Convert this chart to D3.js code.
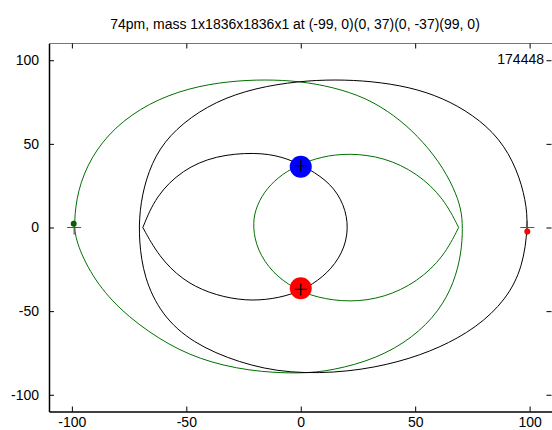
<!DOCTYPE html>
<html>
<head>
<meta charset="utf-8">
<script src="https://cdn.jsdelivr.net/npm/d3@7"></script>
<style>
  body { margin: 0; background: #fff; }
  svg { display: block; font-family: "Liberation Sans", Arial, sans-serif; }
</style>
</head>
<body>
<svg id="chart" width="552" height="430"></svg>
<script>
const titleText = "74pm, mass 1x1836x1836x1 at (-99, 0)(0, 37)(0, -37)(99, 0)";
const stepLabel = "174448";
const xTicks = [-100, -50, 0, 50, 100];
const yTicks = [-100, -50, 0, 50, 100];

// start positions of the four bodies
const startX = [-99, 0, 0, 99];
const startY = [0, 37, -37, 0];

// current positions
const protons = [
    { x: 0, y: 36.3, color: "#0000ff" },
    { x: 0, y: -36.3, color: "#ff0000" }
];
const electrons = [
    { x: -99.2, y: 2.2, color: "#006400" },
    { x: 99, y: -2.4, color: "#ff0000" }
];

// traced orbits
const greenOuter = [
    [-99.1, 2.8], [-97.6, 22], [-91.8, 42], [-81.5, 60], [-66.4, 74.5],
    [-48.9, 83.5], [-31.4, 87.5], [-15.4, 88.5], [-0.6, 87.5], [14, 84],
    [28.7, 77.5], [41, 67], [51, 55], [60.5, 39.5], [67, 23.5], [70.2, 10.7],
    [70.8, 0], [70.2, -15.5], [67, -33], [60.5, -50], [49, -66],
    [33, -78.5], [14, -85.5], [-0.4, -87.5], [-22.7, -86], [-44.5, -79],
    [-62, -67], [-79.5, -49], [-91.5, -29], [-98.4, -8]
];
const greenInner = [
    [69, 0], [62.5, 17.5], [51, 32.5], [36.5, 42], [21.4, 44.5],
    [9, 42.5], [-2, 37], [-10, 30], [-16, 21.5], [-20, 10.7], [-21, 0],
    [-19, -13.5], [-12.5, -27], [-3, -36.5], [7, -42], [21.4, -44.8],
    [36.5, -42], [51, -32.5], [62.5, -17.5], [69, 0]
];
const blackOuter = [
    [99.3, 0.8], [98.4, 16], [94.5, 35], [86.9, 53.5], [75.2, 67.5],
    [62.1, 77.5], [47.6, 84], [31, 87.5], [15, 88.5], [-0.9, 87.5], [-19.8, 83.5],
    [-37.2, 75.5], [-51.8, 62.5], [-62, 47.5], [-67.8, 29], [-70.5, 10],
    [-70.7, -8], [-68.5, -30], [-61, -52], [-47.5, -69], [-27, -81],
    [-5.2, -87.5], [21.4, -86.5], [43.2, -80.5], [60.7, -72], [76.7, -60],
    [89.8, -43.2], [97.1, -23.4]
];
const blackInner = [
    [-69, 0], [-63.4, 18.7], [-51.8, 34.5], [-37.2, 43.1], [-19.8, 45],
    [-8.2, 42.5], [1, 37], [11.2, 28.6], [17.8, 17.5], [21, 3],
    [19.5, -12], [13.5, -25], [5.4, -34], [-3.8, -40.2], [-15.4, -43.5],
    [-27, -43.5], [-40.2, -39.3], [-51.8, -31.3], [-62, -17.4], [-69, 0]
];

const plotLeft = 49, plotRight = 552.5, plotTop = 43.5, plotBottom = 411.5;

const x = d3.scaleLinear().domain([-110, 110]).range([plotLeft, plotRight]);
const y = d3.scaleLinear().domain([-110, 110]).range([plotBottom, plotTop]);

const svg = d3.select("#chart");

svg.append("text")
    .attr("x", 295)
    .attr("y", 29)
    .attr("text-anchor", "middle")
    .style("font-size", "14px")
    .attr("fill", "#000")
    .text(titleText);

const plot = svg.append("g");

const closedLine = d3.line()
    .x(d => x(d[0]))
    .y(d => y(d[1]))
    .curve(d3.curveBasisClosed);

const openLine = d3.line()
    .x(d => x(d[0]))
    .y(d => y(d[1]))
    .curve(d3.curveBasis);

plot.append("path").attr("d", closedLine(greenOuter))
    .attr("fill", "none").attr("stroke", "#007000").attr("stroke-width", 1);
plot.append("path").attr("d", openLine(greenInner))
    .attr("fill", "none").attr("stroke", "#007000").attr("stroke-width", 1);
plot.append("path").attr("d", closedLine(blackOuter))
    .attr("fill", "none").attr("stroke", "#000").attr("stroke-width", 1);
plot.append("path").attr("d", openLine(blackInner))
    .attr("fill", "none").attr("stroke", "#000").attr("stroke-width", 1);

// start markers for electrons (under the dots)
[0, 3].forEach(i => {
    plot.append("path")
        .attr("d", `M${x(startX[i]) - 7},${y(startY[i])}h14M${x(startX[i])},${y(startY[i]) - 7}v14`)
        .attr("stroke", "#555").attr("stroke-width", 1.2);
});

plot.selectAll(".proton")
    .data(protons)
    .enter()
    .append("circle")
    .attr("class", "proton")
    .attr("cx", d => x(d.x))
    .attr("cy", d => y(d.y))
    .attr("r", 11)
    .attr("fill", d => d.color);

plot.selectAll(".electron")
    .data(electrons)
    .enter()
    .append("circle")
    .attr("class", "electron")
    .attr("cx", d => x(d.x))
    .attr("cy", d => y(d.y))
    .attr("r", 3)
    .attr("fill", d => d.color);

// start markers for protons (on top)
[1, 2].forEach(i => {
    plot.append("path")
        .attr("d", `M${x(startX[i]) - 6},${y(startY[i])}h12M${x(startX[i])},${y(startY[i]) - 6}v12`)
        .attr("stroke", "#000").attr("stroke-width", 1.2);
});

// frame
svg.append("line").attr("x1", plotLeft).attr("x2", plotRight).attr("y1", plotTop).attr("y2", plotTop)
    .attr("stroke", "#777").attr("stroke-width", 1);
svg.append("line").attr("x1", plotRight).attr("x2", plotRight).attr("y1", plotTop).attr("y2", plotBottom)
    .attr("stroke", "#777").attr("stroke-width", 1);

const fmt = d => String(d);

const xAxis = svg.append("g")
    .attr("transform", `translate(0,${plotBottom})`)
    .call(d3.axisBottom(x).tickValues(xTicks).tickFormat(fmt).tickSizeInner(-5).tickSizeOuter(0).tickPadding(6));
const yAxis = svg.append("g")
    .attr("transform", `translate(${plotLeft},0)`)
    .call(d3.axisLeft(y).tickValues(yTicks).tickFormat(fmt).tickSizeInner(-5).tickSizeOuter(0).tickPadding(10));
const xTop = svg.append("g")
    .attr("transform", `translate(0,${plotTop})`)
    .call(d3.axisTop(x).tickValues(xTicks).tickSizeInner(-5).tickSizeOuter(0).tickFormat(""));
const yRight = svg.append("g")
    .attr("transform", `translate(${plotRight - 1},0)`)
    .call(d3.axisRight(y).tickValues(yTicks).tickSizeInner(-5).tickSizeOuter(0).tickFormat(""));

[xAxis, yAxis].forEach(g => {
    g.select(".domain").attr("stroke", "#000").attr("stroke-width", 1.5);
    g.selectAll("text").style("font-size", "14px").style("font-family", "Liberation Sans, Arial, sans-serif").attr("fill", "#000");
});
[xTop, yRight].forEach(g => g.select(".domain").remove());

svg.append("text")
    .attr("x", 544)
    .attr("y", 64)
    .attr("text-anchor", "end")
    .style("font-size", "14px")
    .attr("fill", "#000")
    .text(stepLabel);
</script>
</body>
</html>
